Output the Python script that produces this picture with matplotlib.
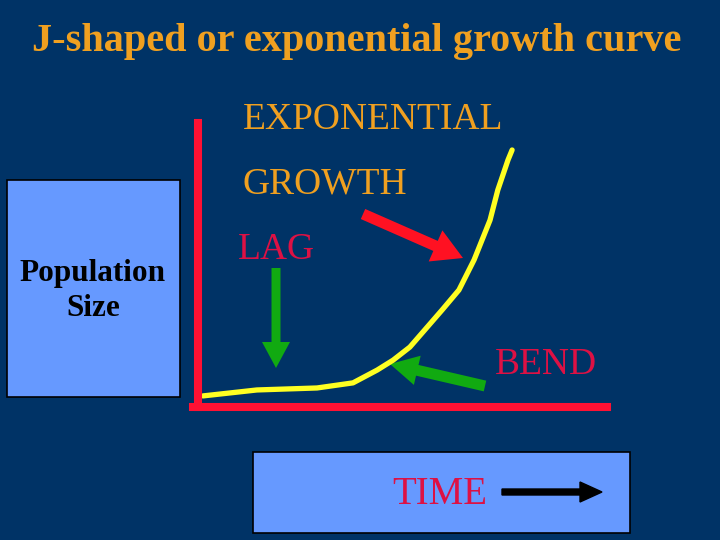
import matplotlib
matplotlib.use("Agg")
import matplotlib.pyplot as plt
from matplotlib.patches import Rectangle, FancyArrow

# curve (time, population), both on a 0-100 scale
time = [1.2, 14.4, 29.1, 37.9, 43.8, 47.7, 51.8, 59.7, 63.8, 67.5, 71.4, 73.3, 75.8, 76.8]
population = [3.9, 6.0, 6.7, 8.5, 13.0, 16.5, 21.1, 34.2, 41.2, 51.8, 65.8, 76.4, 87.0, 90.5]

title = "J-shaped or exponential growth curve"
phase_labels = ["EXPONENTIAL", "GROWTH", "LAG", "BEND"]
y_label = "Population\nSize"
x_label = "TIME"

BG = "#003366"
BOX = "#6699FF"
ORANGE = "#F0A020"
CRIMSON = "#DD1144"
AXRED = "#FF1133"
GREEN = "#11AA11"

plt.rcParams['font.family'] = ['Liberation Serif', 'DejaVu Serif']

fig = plt.figure(figsize=(7.2, 5.4), dpi=100, facecolor=BG)

# background layer in pixel units
bg = fig.add_axes([0, 0, 1, 1])
bg.set_xlim(0, 720)
bg.set_ylim(540, 0)
bg.axis('off')
bg.set_facecolor(BG)

bg.text(357, 42, title, color=ORANGE, fontsize=29, fontweight='bold',
        ha='center', va='center')

bg.add_patch(Rectangle((7, 180), 173, 217, facecolor=BOX, edgecolor='black', lw=1.2))
bg.text(93, 291, y_label, ha='center', va='center', fontsize=22.5,
        fontweight='bold', color='black', linespacing=1.3)

bg.add_patch(Rectangle((253, 452), 377, 81, facecolor=BOX, edgecolor='black', lw=1.2))
bg.text(440, 495, x_label, ha='center', va='center', fontsize=28, color=CRIMSON)
bg.add_patch(FancyArrow(502, 492, 100, 0, width=6, head_width=20, head_length=22,
                        length_includes_head=True, color='black'))

bg.text(243, 120, phase_labels[0], ha='left', va='center', fontsize=27, color=ORANGE)
bg.text(243, 184, phase_labels[1], ha='left', va='center', fontsize=27, color=ORANGE)
bg.text(238, 250, phase_labels[2], ha='left', va='center', fontsize=27, color=CRIMSON)
bg.text(495, 365, phase_labels[3], ha='left', va='center', fontsize=27, color=CRIMSON)

# arrows pointing at the curve
bg.add_patch(FancyArrow(363, 214, 100, 44, width=11, head_width=34, head_length=30,
                        length_includes_head=True, color='#FF1122', lw=0))
bg.add_patch(FancyArrow(276, 268, 0, 100, width=9, head_width=28, head_length=26,
                        length_includes_head=True, color=GREEN, lw=0))
bg.add_patch(FancyArrow(485, 386, -95, -22, width=11, head_width=30, head_length=28,
                        length_includes_head=True, color=GREEN, lw=0))

# the growth curve axes
ax = fig.add_axes([198 / 720, (540 - 407) / 540, (607 - 198) / 720, (407 - 123) / 540])
ax.set_facecolor('none')
ax.set_xlim(0, 100)
ax.set_ylim(0, 100)
ax.plot(time, population, color='#FFFF22', lw=3.8, solid_capstyle='round',
        solid_joinstyle='round')
for side in ['top', 'right']:
    ax.spines[side].set_visible(False)
for side in ['left', 'bottom']:
    ax.spines[side].set_color(AXRED)
    ax.spines[side].set_linewidth(5.8)
ax.spines['bottom'].set_bounds(-1.2, 100)
ax.set_xticks([])
ax.set_yticks([])

fig.savefig("out.png", dpi=100, facecolor=BG)
